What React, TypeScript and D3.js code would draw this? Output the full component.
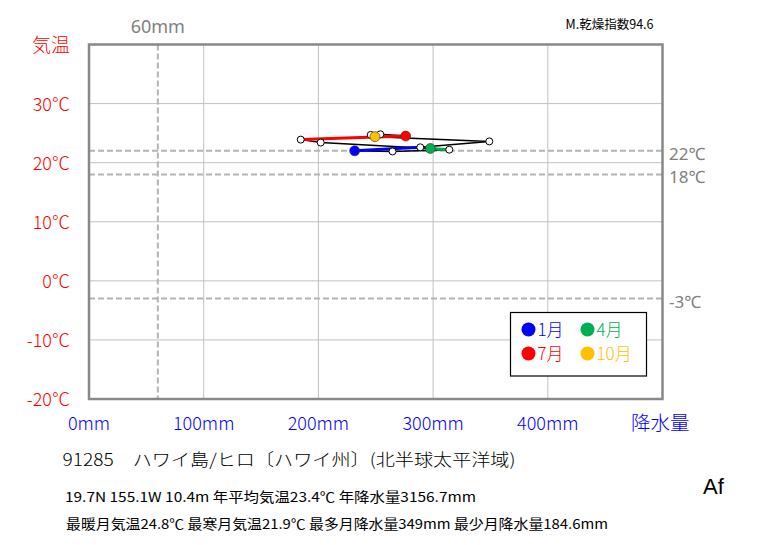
import * as d3 from "d3";
import { useEffect, useRef } from "react";

// monthly normals (Hilo)
const months = ["1月", "2月", "3月", "4月", "5月", "6月", "7月", "8月", "9月", "10月", "11月", "12月"];
const temps = [22.0, 21.9, 22.2, 22.4, 23.4, 23.9, 24.5, 24.8, 24.7, 24.4, 23.6, 22.6];
const precip = [231.6, 264.6, 314.1, 297.6, 202.0, 184.6, 276.1, 254.0, 245.6, 249.3, 349.0, 288.8];

const xTicks = [0, 100, 200, 300, 400];
const yTicks = [-20, -10, 0, 10, 20, 30];
const refTemps = [22, 18, -3];
const refPrecip = 60;

// highlighted months (index) and their colours
const marked = [0, 3, 6, 9];
const markColors = ["#0000ff", "#00b050", "#ff0000", "#ffc000"];

const jp = "'Noto Sans CJK JP', sans-serif";

const App = () => {
  const ref = useRef(null);

  useEffect(() => {
    const svg = d3.select(ref.current);
    svg.selectAll("*").remove();

    const left = 89, right = 662.5, top = 44.5, bottom = 399;
    const x = d3.scaleLinear().domain([0, 500]).range([left, right]);
    const y = d3.scaleLinear().domain([-20, 40]).range([bottom, top]);

    // grid
    const g = svg.append("g");
    g.selectAll("line.vg")
      .data(xTicks.filter((d) => d > 0))
      .join("line")
      .attr("x1", (d) => x(d)).attr("x2", (d) => x(d))
      .attr("y1", top).attr("y2", bottom)
      .attr("stroke", "#c0c0c0").attr("stroke-width", 1);
    g.selectAll("line.hg")
      .data(yTicks.filter((d) => d > -20))
      .join("line")
      .attr("x1", left).attr("x2", right)
      .attr("y1", (d) => y(d)).attr("y2", (d) => y(d))
      .attr("stroke", "#c0c0c0").attr("stroke-width", 1);

    // reference dashed lines
    svg.selectAll("line.rt")
      .data(refTemps)
      .join("line")
      .attr("x1", left).attr("x2", right)
      .attr("y1", (d) => y(d)).attr("y2", (d) => y(d))
      .attr("stroke", "#b4b4b4").attr("stroke-width", 2)
      .attr("stroke-dasharray", "6,3");
    svg.append("line")
      .attr("x1", x(refPrecip)).attr("x2", x(refPrecip))
      .attr("y1", top).attr("y2", bottom)
      .attr("stroke", "#b4b4b4").attr("stroke-width", 2)
      .attr("stroke-dasharray", "6,3");

    // frame
    svg.append("rect")
      .attr("x", left).attr("y", top)
      .attr("width", right - left).attr("height", bottom - top)
      .attr("fill", "none").attr("stroke", "#888888").attr("stroke-width", 2.5);

    // y labels
    svg.selectAll("text.yl")
      .data(yTicks)
      .join("text")
      .attr("x", 70).attr("y", (d) => y(d) + 7)
      .attr("text-anchor", "end")
      .attr("font-family", jp).attr("font-size", 18).attr("font-weight", 300)
      .attr("fill", "#ff0000")
      .text((d) => `${d}℃`);
    svg.append("text")
      .attr("x", 32).attr("y", 52)
      .attr("font-family", jp).attr("font-size", 19).attr("font-weight", 300)
      .attr("fill", "#ff0000").text("気温");

    // x labels
    svg.selectAll("text.xl")
      .data(xTicks)
      .join("text")
      .attr("x", (d) => x(d)).attr("y", 430)
      .attr("text-anchor", "middle")
      .attr("font-family", jp).attr("font-size", 18).attr("font-weight", 300)
      .attr("fill", "#0000ff")
      .text((d) => `${d}mm`);
    svg.append("text")
      .attr("x", 631).attr("y", 430)
      .attr("font-family", jp).attr("font-size", 19.5).attr("font-weight", 300)
      .attr("fill", "#0000ff").text("降水量");

    // reference labels
    svg.selectAll("text.rl")
      .data(refTemps)
      .join("text")
      .attr("x", 669).attr("y", (d) => y(d) + 9)
      .attr("font-family", "'Noto Sans', sans-serif").attr("font-size", 17)
      .attr("fill", "#808080")
      .text((d) => `${d}℃`);
    svg.append("text")
      .attr("x", x(refPrecip)).attr("y", 33)
      .attr("text-anchor", "middle")
      .attr("font-family", "'Noto Sans', sans-serif").attr("font-size", 18)
      .attr("fill", "#808080").text(`${refPrecip}mm`);

    // climograph polygon
    const pts = months.map((m, i) => [x(precip[i]), y(temps[i])]);
    svg.append("path")
      .attr("d", d3.line()(pts.concat([pts[0]])))
      .attr("fill", "none").attr("stroke", "#000").attr("stroke-width", 1.5);

    // coloured segment: previous month -> marked month
    marked.forEach((mi, k) => {
      const prev = (mi + 11) % 12;
      svg.append("path")
        .attr("d", d3.line()([pts[prev], pts[mi]]))
        .attr("stroke", markColors[k]).attr("stroke-width", 3);
    });

    svg.selectAll("circle.pt")
      .data(pts.filter((p, i) => !marked.includes(i)))
      .join("circle")
      .attr("cx", (d) => d[0]).attr("cy", (d) => d[1]).attr("r", 3.5)
      .attr("fill", "#fff").attr("stroke", "#000").attr("stroke-width", 1);
    marked.forEach((mi, k) => {
      svg.append("circle")
        .attr("cx", pts[mi][0]).attr("cy", pts[mi][1]).attr("r", 5)
        .attr("fill", markColors[k]).attr("stroke", "#333").attr("stroke-width", 0.6);
    });

    // legend
    svg.append("rect")
      .attr("x", 510.5).attr("y", 312.5).attr("width", 136).attr("height", 63.5)
      .attr("fill", "#fff").attr("stroke", "#000").attr("stroke-width", 1.2);
    marked.forEach((mi, k) => {
      const lx = 528.5 + (k % 2) * 59;
      const ly = 329.5 + Math.floor(k / 2) * 24;
      svg.append("circle").attr("cx", lx).attr("cy", ly).attr("r", 7).attr("fill", markColors[k]);
      svg.append("text")
        .attr("x", lx + 9).attr("y", ly + 6.5)
        .attr("font-family", jp).attr("font-size", 17).attr("font-weight", 300)
        .attr("fill", markColors[k]).text(months[mi]);
    });

    // texts below
    svg.append("text")
      .attr("x", 565.5).attr("y", 28.5)
      .attr("font-family", jp).attr("font-size", 12.5)
      .attr("textLength", 88).attr("lengthAdjust", "spacingAndGlyphs")
      .text("M.乾燥指数94.6");
    svg.append("text")
      .attr("x", 62.5).attr("y", 466)
      .attr("font-family", jp).attr("font-size", 17).attr("font-weight", 300)
      .attr("textLength", 453).attr("lengthAdjust", "spacingAndGlyphs")
      .text("91285　ハワイ島/ヒロ〔ハワイ州〕(北半球太平洋域)");
    svg.append("text")
      .attr("x", 65).attr("y", 502)
      .attr("font-family", jp).attr("font-size", 13.5)
      .attr("textLength", 411).attr("lengthAdjust", "spacingAndGlyphs")
      .text("19.7N  155.1W 10.4m  年平均気温23.4℃ 年降水量3156.7mm");
    svg.append("text")
      .attr("x", 66).attr("y", 528.5)
      .attr("font-family", jp).attr("font-size", 13.5)
      .attr("textLength", 542).attr("lengthAdjust", "spacingAndGlyphs")
      .text("最暖月気温24.8℃ 最寒月気温21.9℃ 最多月降水量349mm 最少月降水量184.6mm");
    svg.append("text")
      .attr("x", 703).attr("y", 494)
      .attr("font-family", "'Liberation Sans', sans-serif").attr("font-size", 22)
      .text("Af");
  }, []);

  return (
    <svg
      ref={ref}
      width={763}
      height={545}
      style={{ position: "absolute", left: 0, top: 0, background: "#fff" }}
    />
  );
};

export default App;
